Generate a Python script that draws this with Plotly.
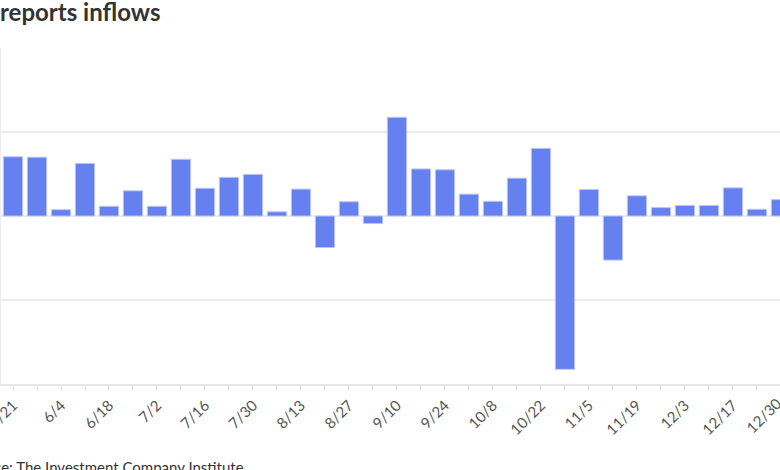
import plotly.graph_objects as go

weeks = ["5/21", "5/28", "6/4", "6/11", "6/18", "6/25", "7/2", "7/9", "7/16", "7/23",
         "7/30", "8/6", "8/13", "8/20", "8/27", "9/3", "9/10", "9/17", "9/24", "10/1",
         "10/8", "10/15", "10/22", "10/29", "11/5", "11/12", "11/19", "11/26", "12/3",
         "12/10", "12/17", "12/24", "12/30"]
flows = [14.1, 14.0, 1.5, 12.5, 2.3, 6.0, 2.3, 13.5, 6.6, 9.2,
         9.9, 1.0, 6.4, -7.5, 3.4, -1.8, 23.5, 11.2, 11.0, 5.2,
         3.5, 9.0, 16.1, -36.5, 6.3, -10.5, 4.8, 2.0, 2.5, 2.5,
         6.7, 1.6, 3.9]
tick_text = ["5/21", "", "6/4", "", "6/18", "", "7/2", "", "7/16", "",
             "7/30", "", "8/13", "", "8/27", "", "9/10", "", "9/24", "",
             "10/8", "", "10/22", "", "11/5", "", "11/19", "", "12/3", "",
             "12/17", "", "12/30"]
y_ticks = [-40, -20, 0, 20, 40]

title_text = "reports inflows"
source_text = "Source: The Investment Company Institute"

idx = list(range(len(weeks)))
x_range = [-0.5, 31.96]

fig = go.Figure()
fig.add_trace(go.Bar(
    x=idx, y=flows,
    marker=dict(color="#6580ef", line=dict(color="#b9c5f8", width=1)),
    hovertext=weeks, hoverinfo="text+y",
))

fig.update_layout(
    width=780, height=470,
    margin=dict(l=1, r=0, t=48, b=86),
    paper_bgcolor="white", plot_bgcolor="white",
    bargap=0.2,
    showlegend=False,
    font=dict(family="Lato", color="#555555"),
)

fig.update_xaxes(
    range=x_range,
    tickmode="array", tickvals=idx, ticktext=tick_text,
    tickangle=-45, tickfont=dict(family="Lato", size=15, color="#555555"),
    ticklabeloverflow="allow",
    ticks="outside", ticklen=5, tickcolor="#e2e2e2", tickwidth=1,
    showline=True, linecolor="#e8e8e8", linewidth=1.5,
    showgrid=False, zeroline=False, automargin=False,
)
fig.update_yaxes(
    range=[y_ticks[0], y_ticks[-1]],
    tickmode="array", tickvals=y_ticks,
    showticklabels=False,
    showgrid=True, gridcolor="#ececec", gridwidth=1.5,
    zeroline=False,
    showline=True, linecolor="#ececec", linewidth=1.5,
    automargin=False,
)

# last tick label (partially beyond the right edge)
fig.add_annotation(
    xref="paper", yref="paper", x=(788 - 1) / 779, y=-0.022,
    text=weeks[-1], textangle=-45, showarrow=False,
    xanchor="right", yanchor="top",
    font=dict(family="Lato", size=15, color="#555555"),
)

# title (left part cut off, as in the reference)
fig.add_annotation(
    xref="paper", yref="paper", x=(162 - 1) / 779, y=(384 - 12) / 336,
    text=title_text, showarrow=False, xanchor="right", yanchor="middle",
    font=dict(family="Lato", size=24, color="#333333", weight=700),
)

# source line
fig.add_annotation(
    xref="paper", yref="paper", x=(246 - 1) / 779, y=(384 - 467) / 336,
    text=source_text, showarrow=False, xanchor="right", yanchor="middle",
    font=dict(family="Lato", size=15, color="#333333"),
)

fig.write_html("out.html", config={"displayModeBar": False},
               post_script="document.body.style.margin='0';")
